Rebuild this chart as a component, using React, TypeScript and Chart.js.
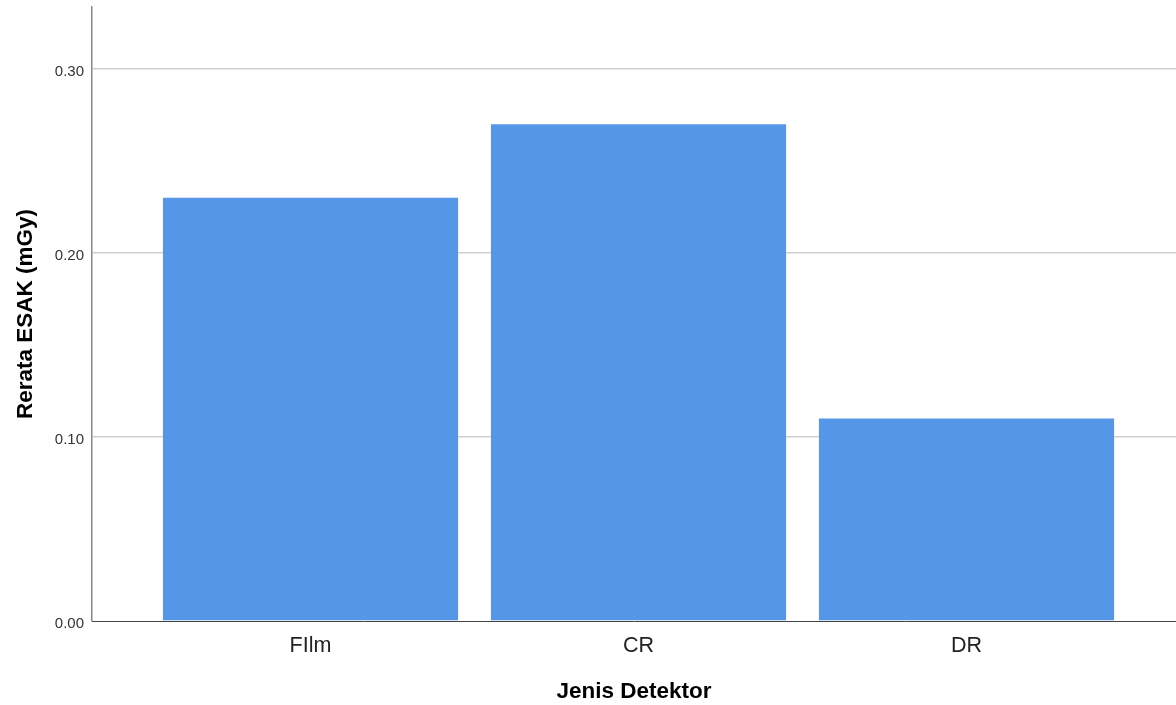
import React, { useEffect, useRef } from "react";
import { Chart, registerables } from "chart.js";

Chart.register(...registerables);

const categories: string[] = ["FIlm", "CR", "DR"];
const meanEsak: number[] = [0.23, 0.27, 0.11];
const yTickValues: number[] = [0, 0.1, 0.2, 0.3];
const yAxisTitle = "Rerata ESAK (mGy)";
const xAxisTitle = "Jenis Detektor";

export default function App() {
  const canvasRef = useRef<HTMLCanvasElement | null>(null);

  useEffect(() => {
    const canvas = canvasRef.current;
    if (!canvas) return;
    const font = "'Liberation Sans', Arial, sans-serif";
    const chart = new Chart(canvas, {
      type: "bar",
      data: {
        datasets: [
          {
            label: yAxisTitle,
            data: meanEsak.map((v, i) => ({ x: i, y: v })),
            backgroundColor: "#5596E6",
            borderWidth: 0,
            barPercentage: 0.9,
            categoryPercentage: 1,
          },
        ],
      },
      options: {
        responsive: false,
        animation: false,
        devicePixelRatio: 1,
        layout: { padding: { top: 7, left: 0, right: 0, bottom: 0 } },
        plugins: { legend: { display: false }, tooltip: { enabled: false } },
        scales: {
          x: {
            type: "linear",
            offset: false,
            min: -0.6662,
            max: 2.6387,
            grid: { display: false, drawTicks: false, offset: false },
            border: { display: true, color: "#444444", width: 1 },
            afterBuildTicks: (scale: any) => {
              scale.ticks = categories.map((_, i) => ({ value: i }));
            },
            afterFit: (scale: any) => {
              scale.height = 84;
              scale.paddingLeft = 0;
              scale.paddingRight = 0;
            },
            ticks: {
              padding: 12,
              color: "#222222",
              font: { family: font, size: 21.5 },
              callback: (value: any) => categories[Number(value)] ?? "",
            },
            title: {
              display: true,
              text: xAxisTitle,
              color: "#000000",
              font: { family: font, size: 22.5, weight: "bold" },
              padding: { top: 0, bottom: 0 },
            },
          },
          y: {
            min: 0,
            max: 0.3337,
            grid: {
              drawTicks: false,
              color: (ctx: any) => (ctx.tick && ctx.tick.value === 0 ? "rgba(0,0,0,0)" : "#d0d0d0"),
              lineWidth: 1.5,
            },
            border: { display: true, color: "#888888", width: 1.5 },
            afterBuildTicks: (scale: any) => {
              scale.ticks = yTickValues.map((v) => ({ value: v }));
            },
            afterFit: (scale: any) => {
              scale.width = 92;
              scale.paddingTop = 0;
              scale.paddingBottom = 0;
            },
            ticks: {
              padding: 8,
              labelOffset: 3,
              color: "#333333",
              font: { family: font, size: 15 },
              callback: (value: any) => Number(value).toFixed(2),
            },
            title: {
              display: true,
              text: yAxisTitle,
              color: "#000000",
              font: { family: font, size: 22.5, weight: "bold" },
              padding: { top: 12.5, bottom: 0 },
            },
          },
        },
      },
    });
    return () => chart.destroy();
  }, []);

  return (
    <div style={{ position: "fixed", left: 0, top: 0, width: 1176, height: 705, background: "#ffffff", overflow: "hidden" }}>
      <canvas ref={canvasRef} width={1176} height={705} style={{ display: "block", width: 1176, height: 705 }} />
    </div>
  );
}
